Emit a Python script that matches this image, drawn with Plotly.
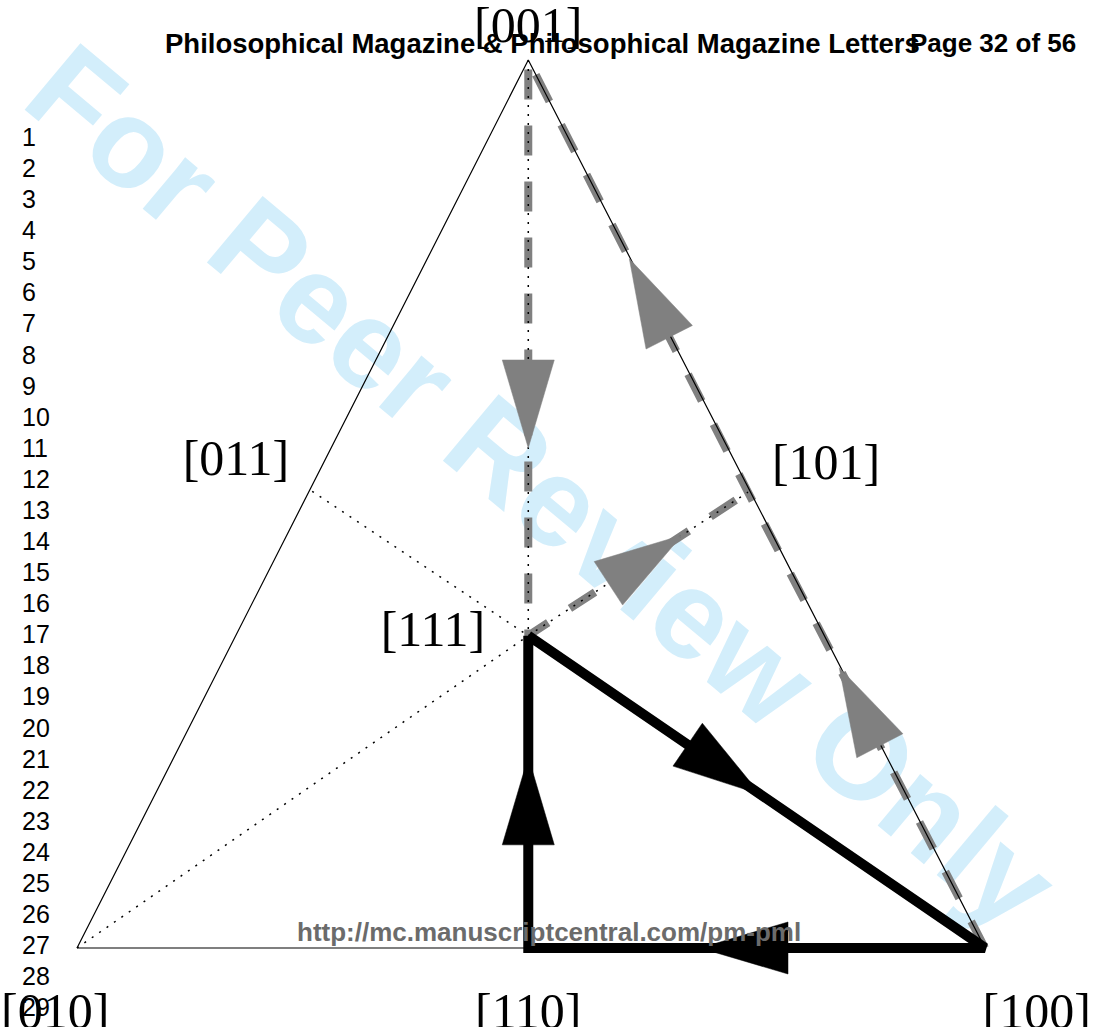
import numpy as np
import plotly.graph_objects as go

# ---- data -------------------------------------------------------------
NODE_NAMES = ["[010]", "[100]", "[001]", "[110]", "[011]", "[101]", "[111]"]
NODE_X = [0.000, 1.000, 0.497, 0.497, 0.259, 0.739, 0.497]
NODE_Y = [0.000, 0.000, 0.978, 0.000, 0.503, 0.502, 0.344]

TRIANGLE_PATH = ["[010]", "[100]", "[001]", "[010]"]
DOTTED_SEGMENTS = [("[001]", "[110]"), ("[010]", "[111]"),
                   ("[011]", "[111]"), ("[111]", "[101]")]
GRAY_PATH = ["[100]", "[101]", "[001]", "[111]", "[101]"]
BLACK_PATH = ["[111]", "[100]", "[110]", "[111]"]

# arrows: (from, to, fraction of the segment where the tip sits)
GRAY_ARROWS = [("[100]", "[101]", 0.615), ("[101]", "[001]", 0.54),
               ("[001]", "[111]", 0.674), ("[111]", "[101]", 0.70)]
BLACK_ARROWS = [("[111]", "[100]", 0.508), ("[100]", "[110]", 0.624),
                ("[110]", "[111]", 0.612)]

# label positions (data units) for each node label
LABEL_X = [-0.024, 1.057, 0.497, 0.497, 0.175, 0.825, 0.392]
LABEL_Y = [-0.074, -0.074, 1.012, -0.074, 0.535, 0.530, 0.346]

LINE_NUMBERS = list(range(1, 30))

# ---- helpers ----------------------------------------------------------
pos = {n: (x, y) for n, x, y in zip(NODE_NAMES, NODE_X, NODE_Y)}
PX = 908.0  # pixels per data unit
ARROW_LEN = 88 / PX
ARROW_WID = 52 / PX


def path_xy(names):
    return [pos[n][0] for n in names], [pos[n][1] for n in names]


def arrow_poly(a, b, t):
    A = np.array(pos[a]); B = np.array(pos[b])
    d = B - A
    u = d / np.linalg.norm(d)
    nrm = np.array([-u[1], u[0]])
    tip = A + t * d
    base = tip - ARROW_LEN * u
    c1 = base + nrm * ARROW_WID / 2
    c2 = base - nrm * ARROW_WID / 2
    return [tip[0], c1[0], c2[0], tip[0]], [tip[1], c1[1], c2[1], tip[1]]


fig = go.Figure()

# gray thick dashed path
gx, gy = path_xy(GRAY_PATH)
fig.add_trace(go.Scatter(x=gx, y=gy, mode="lines",
                         line=dict(color="#808080", width=8, dash="30px,26px")))

# thin triangle
tx, ty = path_xy(TRIANGLE_PATH)
fig.add_trace(go.Scatter(x=tx, y=ty, mode="lines",
                         line=dict(color="black", width=1.2)))

# dotted segments
for a, b in DOTTED_SEGMENTS:
    sx, sy = path_xy([a, b])
    fig.add_trace(go.Scatter(x=sx, y=sy, mode="lines",
                             line=dict(color="black", width=1.5, dash="2px,7px")))

# gray arrowheads
for a, b, t in GRAY_ARROWS:
    ax, ay = arrow_poly(a, b, t)
    fig.add_trace(go.Scatter(x=ax, y=ay, mode="lines", fill="toself",
                             fillcolor="#808080", line=dict(color="#808080", width=0.5)))

# black path
bx, by = path_xy(BLACK_PATH)
fig.add_trace(go.Scatter(x=bx, y=by, mode="lines",
                         line=dict(color="black", width=10)))
for a, b, t in BLACK_ARROWS:
    ax, ay = arrow_poly(a, b, t)
    fig.add_trace(go.Scatter(x=ax, y=ay, mode="lines", fill="toself",
                             fillcolor="black", line=dict(color="black", width=0.5)))

# node labels
fig.add_trace(go.Scatter(x=LABEL_X, y=LABEL_Y, mode="text", text=NODE_NAMES,
                         textfont=dict(family="Liberation Serif, Times New Roman, serif",
                                       size=50, color="black"),
                         textposition="middle center"))

W, H = 1099, 1027
x0 = -77 / PX
x1 = (W - 77) / PX
y0 = -(H - 948) / PX
y1 = 948 / PX

annotations = []
# header
annotations.append(dict(text="<b>Philosophical Magazine & Philosophical Magazine Letters</b>",
                        x=163 / W, y=1 - 43 / H, xref="paper", yref="paper",
                        xanchor="left", yanchor="middle", showarrow=False,
                        font=dict(family="Liberation Sans, Arial", size=27.5, color="black")))
annotations.append(dict(text="<b>Page 32 of 56</b>",
                        x=1078 / W, y=1 - 43 / H, xref="paper", yref="paper",
                        xanchor="right", yanchor="middle", showarrow=False,
                        font=dict(family="Liberation Sans, Arial", size=26, color="black")))
# line numbers
for i, n in enumerate(LINE_NUMBERS):
    annotations.append(dict(text=str(n), x=20 / W, y=1 - (137 + 31.08 * i) / H,
                            xref="paper", yref="paper", xanchor="left", yanchor="middle",
                            showarrow=False,
                            font=dict(family="Liberation Sans, Arial", size=25, color="black")))
# url
annotations.append(dict(text="<b>http://mc.manuscriptcentral.com/pm-pml</b>",
                        x=549 / W, y=1 - 932 / H, xref="paper", yref="paper",
                        xanchor="center", yanchor="middle", showarrow=False,
                        font=dict(family="Liberation Sans, Arial", size=26, color="#6b6b6b")))

shapes = [dict(type="rect", xref="paper", yref="paper", layer="below",
               x0=(550 - 300) / W, x1=(550 + 300) / W,
               y0=1 - (478 + 300) / H, y1=1 - (478 - 300) / H,
               line=dict(width=0), fillcolor="rgba(0,0,0,0)",
               label=dict(text="<b>For Peer Review Only</b>", textangle=40,
                          textposition="middle center",
                          font=dict(family="Liberation Sans, Arial", size=126,
                                    color="#d3eefb")))]

fig.update_layout(width=W, height=H, margin=dict(l=0, r=0, t=0, b=0),
                  plot_bgcolor="white", paper_bgcolor="white", showlegend=False,
                  xaxis=dict(range=[x0, x1], visible=False, fixedrange=True),
                  yaxis=dict(range=[y0, y1], visible=False, fixedrange=True),
                  annotations=annotations, shapes=shapes)

fig.write_html("out.html", config={"displayModeBar": False, "staticPlot": True},
               post_script="document.body.style.margin='0';document.body.style.overflow='hidden';")
